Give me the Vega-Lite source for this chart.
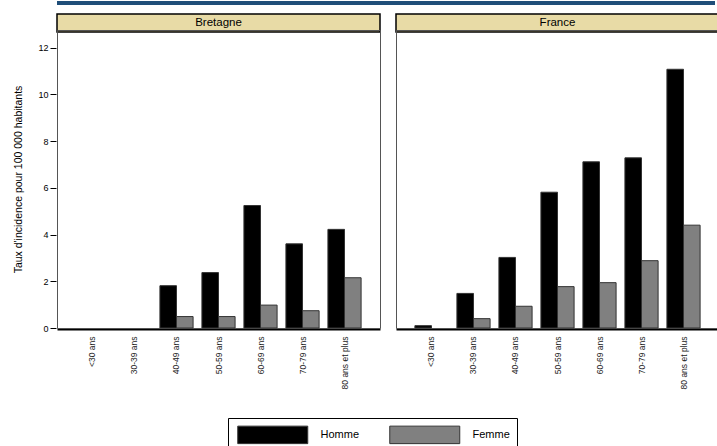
{
  "$schema": "https://vega.github.io/schema/vega-lite/v6.json",
  "padding": {"left": 13, "top": 0, "right": 0, "bottom": 0},
  "background": "white",
  "config": {
    "font": "Liberation Sans",
    "view": {"stroke": "#555555", "strokeWidth": 1}
  },
  "datasets": {
    "regions": [{"region": "Bretagne"}, {"region": "France"}],
    "rates": [
      {"region": "Bretagne", "age": "<30 ans", "sexe": "Homme", "taux": 0},
      {"region": "Bretagne", "age": "<30 ans", "sexe": "Femme", "taux": 0},
      {"region": "Bretagne", "age": "30-39 ans", "sexe": "Homme", "taux": 0},
      {"region": "Bretagne", "age": "30-39 ans", "sexe": "Femme", "taux": 0},
      {"region": "Bretagne", "age": "40-49 ans", "sexe": "Homme", "taux": 1.81},
      {"region": "Bretagne", "age": "40-49 ans", "sexe": "Femme", "taux": 0.49},
      {"region": "Bretagne", "age": "50-59 ans", "sexe": "Homme", "taux": 2.37},
      {"region": "Bretagne", "age": "50-59 ans", "sexe": "Femme", "taux": 0.49},
      {"region": "Bretagne", "age": "60-69 ans", "sexe": "Homme", "taux": 5.24},
      {"region": "Bretagne", "age": "60-69 ans", "sexe": "Femme", "taux": 0.98},
      {"region": "Bretagne", "age": "70-79 ans", "sexe": "Homme", "taux": 3.6},
      {"region": "Bretagne", "age": "70-79 ans", "sexe": "Femme", "taux": 0.74},
      {"region": "Bretagne", "age": "80 ans et plus", "sexe": "Homme", "taux": 4.22},
      {"region": "Bretagne", "age": "80 ans et plus", "sexe": "Femme", "taux": 2.15},
      {"region": "France", "age": "<30 ans", "sexe": "Homme", "taux": 0.1},
      {"region": "France", "age": "<30 ans", "sexe": "Femme", "taux": 0},
      {"region": "France", "age": "30-39 ans", "sexe": "Homme", "taux": 1.48},
      {"region": "France", "age": "30-39 ans", "sexe": "Femme", "taux": 0.4},
      {"region": "France", "age": "40-49 ans", "sexe": "Homme", "taux": 3.02},
      {"region": "France", "age": "40-49 ans", "sexe": "Femme", "taux": 0.93},
      {"region": "France", "age": "50-59 ans", "sexe": "Homme", "taux": 5.81},
      {"region": "France", "age": "50-59 ans", "sexe": "Femme", "taux": 1.77},
      {"region": "France", "age": "60-69 ans", "sexe": "Homme", "taux": 7.11},
      {"region": "France", "age": "60-69 ans", "sexe": "Femme", "taux": 1.94},
      {"region": "France", "age": "70-79 ans", "sexe": "Homme", "taux": 7.28},
      {"region": "France", "age": "70-79 ans", "sexe": "Femme", "taux": 2.88},
      {"region": "France", "age": "80 ans et plus", "sexe": "Homme", "taux": 11.07},
      {"region": "France", "age": "80 ans et plus", "sexe": "Femme", "taux": 4.4}
    ]
  },
  "bounds": "flush",
  "spacing": 9,
  "vconcat": [
    {
      "width": 658,
      "height": 4,
      "view": {"fill": "#1f4e79", "stroke": null},
      "data": {"values": [{"k": 1}]},
      "mark": {"type": "point", "opacity": 0},
      "encoding": {}
    },
    {
      "bounds": "flush",
      "spacing": 16,
      "vconcat": [
        {
          "data": {"name": "regions"},
          "facet": {"column": {"field": "region", "type": "nominal", "header": null}},
          "spacing": 14,
          "spec": {
            "width": 323,
            "height": 18,
            "view": {"fill": "#e8dba6", "stroke": "#000000", "strokeWidth": 1.5},
            "mark": {"type": "text", "fontSize": 11.5, "fontWeight": "normal", "color": "#000000", "baseline": "middle"},
            "encoding": {"text": {"field": "region", "type": "nominal"}}
          }
        },
        {
          "data": {"name": "rates"},
          "facet": {"column": {"field": "region", "type": "nominal", "header": null}},
          "spacing": 14,
          "spec": {
            "width": 323,
            "height": 298,
            "mark": {"type": "bar", "stroke": "#333333", "strokeWidth": 1},
            "encoding": {
              "x": {
                "field": "age",
                "type": "nominal",
                "sort": ["<30 ans", "30-39 ans", "40-49 ans", "50-59 ans", "60-69 ans", "70-79 ans", "80 ans et plus"],
                "scale": {"paddingInner": 0.21, "paddingOuter": 0.45},
                "axis": {
                  "title": null,
                  "labelAngle": -90,
                  "ticks": false,
                  "domain": true,
                  "domainColor": "#000000",
                  "domainWidth": 2,
                  "zindex": 1,
                  "labelFontSize": 8.5,
                  "labelColor": "#222222",
                  "labelPadding": 7
                }
              },
              "xOffset": {"field": "sexe", "type": "nominal", "sort": ["Homme", "Femme"]},
              "y": {
                "field": "taux",
                "type": "quantitative",
                "scale": {"domain": [0, 12.75], "nice": false},
                "axis": {
                  "title": "Taux d'incidence pour 100 000 habitants",
                  "values": [0, 2, 4, 6, 8, 10, 12],
                  "grid": false,
                  "domain": false,
                  "tickColor": "#000000",
                  "tickSize": 6,
                  "labelFontSize": 9,
                  "labelColor": "#000000",
                  "labelPadding": 2,
                  "titleFontSize": 10.5,
                  "titleFontWeight": "normal",
                  "titleColor": "#000000",
                  "titlePadding": 14
                }
              },
              "strokeOpacity": {"condition": {"test": "datum.taux == 0", "value": 0}, "value": 1},
              "color": {
                "field": "sexe",
                "type": "nominal",
                "sort": ["Homme", "Femme"],
                "scale": {"domain": ["Homme", "Femme"], "range": ["#000000", "#808080"]},
                "legend": {
                  "title": null,
                  "orient": "none",
                  "legendX": 171,
                  "legendY": 417,
                  "direction": "horizontal",
                  "symbolType": "M-4,-1H4V1H-4Z",
                  "symbolSize": 306.25,
                  "symbolOffset": 28.25,
                  "symbolStrokeColor": "#333333",
                  "symbolStrokeWidth": 1,
                  "symbolOpacity": 1,
                  "labelFontSize": 11,
                  "labelColor": "#000000",
                  "labelOffset": 38.25,
                  "columnPadding": 27,
                  "strokeColor": "#000000",
                  "padding": 7
                }
              }
            }
          }
        }
      ]
    }
  ]
}
